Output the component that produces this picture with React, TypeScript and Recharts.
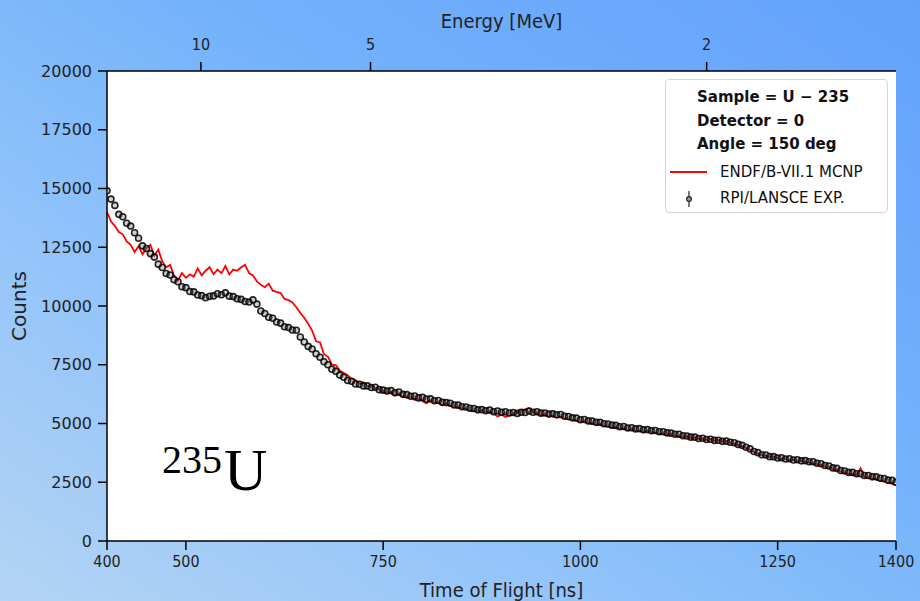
import { ComposedChart, Line, XAxis, YAxis, CartesianGrid, Legend } from "recharts";

// time-of-flight channels (ns)
const tofNs = [
  400, 405, 410, 415, 420, 425, 430, 435, 440, 445,
  450, 455, 460, 465, 470, 475, 480, 485, 490, 495,
  500, 505, 510, 515, 520, 525, 530, 535, 540, 545,
  550, 555, 560, 565, 570, 575, 580, 585, 590, 595,
  600, 605, 610, 615, 620, 625, 630, 635, 640, 645,
  650, 655, 660, 665, 670, 675, 680, 685, 690, 695,
  700, 705, 710, 715, 720, 725, 730, 735, 740, 745,
  750, 755, 760, 765, 770, 775, 780, 785, 790, 795,
  800, 805, 810, 815, 820, 825, 830, 835, 840, 845,
  850, 855, 860, 865, 870, 875, 880, 885, 890, 895,
  900, 905, 910, 915, 920, 925, 930, 935, 940, 945,
  950, 955, 960, 965, 970, 975, 980, 985, 990, 995,
  1000, 1005, 1010, 1015, 1020, 1025, 1030, 1035, 1040, 1045,
  1050, 1055, 1060, 1065, 1070, 1075, 1080, 1085, 1090, 1095,
  1100, 1105, 1110, 1115, 1120, 1125, 1130, 1135, 1140, 1145,
  1150, 1155, 1160, 1165, 1170, 1175, 1180, 1185, 1190, 1195,
  1200, 1205, 1210, 1215, 1220, 1225, 1230, 1235, 1240, 1245,
  1250, 1255, 1260, 1265, 1270, 1275, 1280, 1285, 1290, 1295,
  1300, 1305, 1310, 1315, 1320, 1325, 1330, 1335, 1340, 1345,
  1350, 1355, 1360, 1365, 1370, 1375, 1380, 1385, 1390, 1395,
  1400,
];

// RPI/LANSCE experiment (black circles)
const expCounts = [
  14900, 14550, 14280, 13900, 13800, 13520, 13400, 13120, 12880, 12560,
  12450, 12230, 12080, 11780, 11640, 11380, 11320, 11120, 11030, 10820,
  10780, 10620, 10600, 10470, 10440, 10350, 10410, 10430, 10520, 10480,
  10560, 10420, 10400, 10310, 10280, 10190, 10170, 10260, 10080, 9790,
  9680, 9520, 9480, 9320, 9270, 9120, 9080, 8980, 8970, 8680,
  8470, 8280, 8170, 7970, 7820, 7630, 7500, 7310, 7220, 7060,
  6970, 6830, 6800, 6680, 6670, 6600, 6600, 6530, 6540, 6440,
  6420, 6380, 6400, 6310, 6340, 6240, 6230, 6160, 6170, 6090,
  6110, 6040, 6050, 5970, 5980, 5900, 5890, 5860, 5790, 5780,
  5710, 5700, 5650, 5640, 5580, 5590, 5540, 5570, 5500, 5530,
  5480, 5500, 5450, 5470, 5430, 5480, 5470, 5530, 5480, 5500,
  5440, 5450, 5400, 5410, 5370, 5380, 5310, 5300, 5240, 5230,
  5160, 5170, 5110, 5100, 5050, 5050, 4990, 4980, 4930, 4920,
  4860, 4870, 4810, 4820, 4770, 4780, 4730, 4740, 4690, 4700,
  4650, 4650, 4600, 4590, 4540, 4540, 4480, 4470, 4420, 4420,
  4360, 4370, 4320, 4330, 4280, 4290, 4240, 4250, 4200, 4180,
  4110, 4070, 3990, 3920, 3810, 3760, 3670, 3660, 3590, 3590,
  3530, 3540, 3490, 3500, 3450, 3460, 3410, 3420, 3370, 3370,
  3310, 3290, 3210, 3190, 3110, 3090, 3000, 2980, 2920, 2920,
  2860, 2860, 2790, 2790, 2730, 2730, 2670, 2660, 2590, 2580,
  2500,
];

// ENDF/B-VII.1 MCNP (red line)
const mcnpCounts = [
  14000, 13600, 13400, 13150, 13050, 12750, 12600, 12300, 12550, 12200,
  12450, 12600, 12150, 12400, 11900, 11650, 11750, 11300, 11100, 11400,
  11200, 11350, 11250, 11600, 11300, 11500, 11650, 11350, 11550, 11400,
  11700, 11350, 11550, 11500, 11650, 11750, 11400, 11300, 11050, 10900,
  10800, 10950, 10650, 10600, 10550, 10300, 10250, 10150, 9950, 9700,
  9500, 9250, 8950, 8500, 8450, 7950, 7850, 7500, 7480, 7250,
  7150, 7050, 6900, 6850, 6700, 6750, 6600, 6620, 6500, 6450,
  6350, 6280, 6350, 6200, 6250, 6150, 6100, 6120, 6000, 6050,
  5950, 5850, 5980, 5880, 5900, 5780, 5850, 5750, 5720, 5680,
  5640, 5620, 5560, 5530, 5520, 5560, 5480, 5500, 5420, 5300,
  5380, 5280, 5350, 5400, 5450, 5560, 5600, 5650, 5480, 5420,
  5350, 5380, 5300, 5320, 5250, 5280, 5220, 5180, 5150, 5120,
  5080, 5100, 5020, 5000, 4950, 4980, 4900, 4870, 4830, 4850,
  4760, 4800, 4720, 4760, 4700, 4680, 4650, 4700, 4620, 4600,
  4560, 4580, 4520, 4550, 4480, 4450, 4420, 4460, 4380, 4420,
  4330, 4360, 4290, 4340, 4260, 4300, 4230, 4260, 4180, 4140,
  4080, 4030, 3950, 3880, 3780, 3720, 3640, 3620, 3560, 3600,
  3520, 3480, 3500, 3440, 3450, 3380, 3420, 3360, 3340, 3300,
  3260, 3230, 3160, 3130, 3060, 3020, 2950, 2920, 2860, 2850,
  2800, 3100, 2720, 2700, 2650, 2620, 2570, 2530, 2480, 2430,
  2380,
];

const tofTicks = [400, 500, 750, 1000, 1250, 1400];
const countTicks = [0, 2500, 5000, 7500, 10000, 12500, 15000, 17500, 20000];
// energy axis on top: TOF position of each energy tick
const energyTickTof = [519, 734, 1160];
const energyTickLabels = ["10", "5", "2"];

const legendTitle = ["Sample = U \u2212 235", "Detector = 0", "Angle = 150 deg"];
const seriesNames = ["ENDF/B-VII.1 MCNP", "RPI/LANSCE EXP."];

const rows = tofNs.map((tof, i) => ({ tof, mcnp: mcnpCounts[i], exp: expCounts[i] }));

const font = "DejaVu Sans";
const tickStyle = { fontSize: 16, fill: "#222", fontFamily: font };
const axisLine = { stroke: "#000", strokeWidth: 1.5 };

function LegendBox() {
  const line = (top: number, text: string, bold: boolean) => (
    <div
      key={text}
      style={{
        position: "absolute",
        left: bold ? 31 : 54,
        top,
        fontSize: 15,
        lineHeight: "20px",
        fontWeight: bold ? "bold" : "normal",
        whiteSpace: "nowrap",
      }}
    >
      {text}
    </div>
  );
  return (
    <div
      style={{
        position: "relative",
        width: 223,
        height: 134,
        boxSizing: "border-box",
        border: "1px solid #d6d6d6",
        borderRadius: 4,
        background: "rgba(255,255,255,0.9)",
        fontFamily: font,
        color: "#111",
      }}
    >
      {legendTitle.map((t, i) => line(7 + i * 23.5, t, true))}
      <div style={{ position: "absolute", left: 4, top: 91, width: 37, height: 2, background: "#ff0000" }} />
      {line(82, seriesNames[0], false)}
      <svg style={{ position: "absolute", left: 18, top: 110 }} width={10} height={18}>
        <line x1={5} y1={1} x2={5} y2={17} stroke="#222" strokeWidth={1.2} />
        <circle cx={5} cy={9} r={2.4} fill="#999" stroke="#222" strokeWidth={1.2} />
      </svg>
      {line(108, seriesNames[1], false)}
    </div>
  );
}

export default function App() {
  return (
    <div
      style={{
        position: "absolute",
        left: 0,
        top: 0,
        width: 920,
        height: 601,
        overflow: "hidden",
        background: "linear-gradient(to top right, #b4d4f4 0%, #8fc2fa 35%, #74b2fb 60%, #62a2fb 100%)",
      }}
    >
      <ComposedChart width={920} height={601} data={rows} margin={{ top: 0, right: 24, bottom: 0, left: 0 }}>
        <CartesianGrid xAxisId="bottom" yAxisId="left" horizontal={false} vertical={false} fill="#ffffff" fillOpacity={1} />
        <XAxis
          xAxisId="bottom"
          type="number"
          dataKey="tof"
          domain={[400, 1400]}
          ticks={tofTicks}
          allowDataOverflow
          height={60}
          tickSize={9}
          tickMargin={6}
          tick={{ ...tickStyle, fontFamily: "DejaVu Sans Condensed" }}
          axisLine={axisLine}
          tickLine={axisLine}
          label={{
            value: "Time of Flight [ns]",
            position: "insideBottom",
            offset: 4,
            style: { fontSize: 20, fill: "#222", fontFamily: "DejaVu Sans Condensed" },
          }}
        />
        <XAxis
          xAxisId="top"
          orientation="top"
          type="number"
          dataKey="tof"
          domain={[400, 1400]}
          ticks={energyTickTof}
          tickFormatter={(v: number) => energyTickLabels[energyTickTof.indexOf(v)] ?? ""}
          allowDataOverflow
          height={71}
          tickSize={9}
          tickMargin={12}
          tick={{ ...tickStyle, fontFamily: "DejaVu Sans Condensed" }}
          axisLine={axisLine}
          tickLine={axisLine}
          label={{
            value: "Energy [MeV]",
            position: "insideTop",
            offset: 14,
            style: { fontSize: 20, fill: "#222", fontFamily: "DejaVu Sans Condensed" },
          }}
        />
        <YAxis
          yAxisId="left"
          domain={[0, 20000]}
          ticks={countTicks}
          allowDataOverflow
          width={107}
          tickSize={9}
          tickMargin={6}
          tick={tickStyle}
          axisLine={axisLine}
          tickLine={axisLine}
          label={{
            value: "Counts",
            angle: -90,
            position: "insideLeft",
            offset: 19,
            style: { textAnchor: "middle", fontSize: 20, fill: "#222", fontFamily: font },
          }}
        />
        <YAxis
          yAxisId="right"
          orientation="right"
          mirror
          domain={[0, 20000]}
          ticks={countTicks}
          width={0}
          tickSize={9}
          tickFormatter={() => ""}
          axisLine={axisLine}
          tickLine={axisLine}
        />
        <Line
          xAxisId="bottom"
          yAxisId="left"
          dataKey="exp"
          name={seriesNames[1]}
          stroke="none"
          dot={{ r: 3, stroke: "#000", strokeWidth: 1.6, strokeOpacity: 0.85, fill: "#666", fillOpacity: 0.3 }}
          activeDot={false}
          isAnimationActive={false}
        />
        <Line
          xAxisId="bottom"
          yAxisId="left"
          dataKey="mcnp"
          name={seriesNames[0]}
          stroke="#ff0000"
          strokeWidth={1.8}
          dot={false}
          activeDot={false}
          isAnimationActive={false}
        />
        <Legend
          layout="vertical"
          align="center"
          verticalAlign="middle"
          content={() => <LegendBox />}
          wrapperStyle={{ left: 665, top: 79, width: 223, height: 134 }}
        />
      </ComposedChart>
      <svg style={{ position: "absolute", left: 0, top: 0, pointerEvents: "none" }} width={920} height={601}>
        <text fontFamily="Liberation Serif" fill="#000">
          <tspan x={162} y={473} fontSize={40}>235</tspan>
          <tspan x={224} y={490} fontSize={60}>U</tspan>
        </text>
      </svg>
    </div>
  );
}
